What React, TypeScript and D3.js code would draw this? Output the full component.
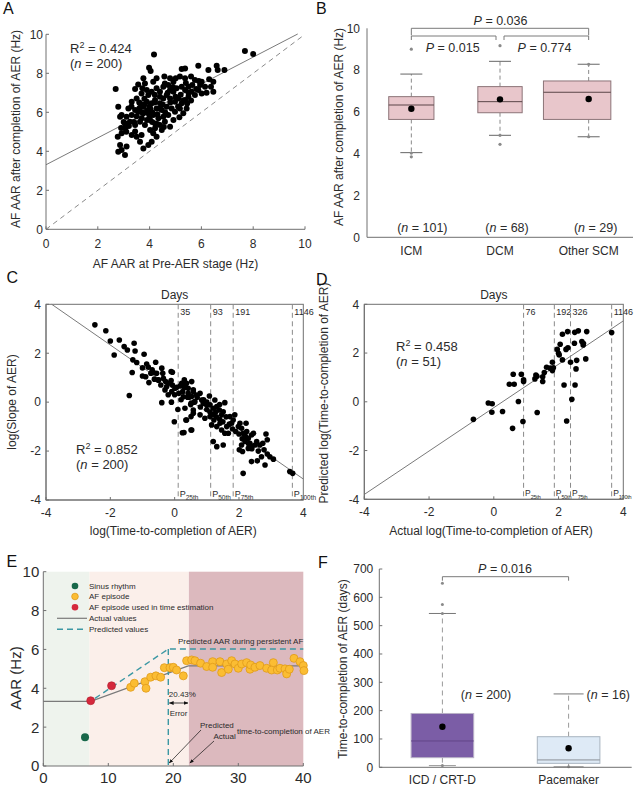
import React from 'react';
import * as d3 from 'd3';

type P = [number, number];

// ---------------- Panel A data ----------------
const aPoints: P[] = [
  [4.17, 8.97], [7.68, 9.14], [8.0, 8.99], [2.69, 7.19], [3.98, 8.29], [4.04, 8.12], [5.24, 8.22], [5.37, 8.25],
  [5.88, 8.39], [6.27, 8.17], [6.59, 8.39], [6.63, 8.17], [6.89, 8.17],
  [3.76, 7.74], [3.82, 7.48], [3.56, 7.43], [3.44, 7.19], [3.72, 7.23], [3.89, 7.14],
  [4.14, 7.57], [4.27, 7.74], [4.57, 7.83], [4.79, 7.74], [4.92, 7.57], [4.72, 7.4], [5.01, 7.74], [5.17, 7.83],
  [5.37, 7.74], [5.6, 7.83], [5.75, 7.66], [6.01, 7.57], [5.95, 7.4], [6.14, 7.31], [5.65, 7.4],
  [6.37, 7.31], [6.46, 7.57], [6.46, 7.06],
  [3.18, 6.2], [3.31, 6.54], [3.5, 6.71], [3.63, 6.46], [3.69, 6.97], [3.95, 6.89], [4.08, 7.06], [4.27, 7.23],
  [4.4, 7.06], [4.53, 7.31], [4.59, 7.48], [4.79, 7.14], [4.92, 7.06], [5.04, 7.23], [5.24, 7.31], [5.37, 7.14],
  [5.5, 7.31], [5.62, 7.06], [5.75, 6.89], [5.88, 7.14], [6.01, 6.97], [5.5, 6.8], [5.37, 6.63], [5.24, 6.46],
  [5.11, 6.71], [4.98, 6.54], [4.79, 6.71], [4.66, 6.89], [4.53, 6.71], [4.4, 6.46], [4.21, 6.63], [4.08, 6.46],
  [3.89, 6.54], [3.76, 6.29], [4.02, 6.2], [4.27, 6.2], [4.47, 6.12], [4.66, 6.29], [4.85, 6.2], [4.98, 6.03],
  [5.17, 6.2], [5.3, 5.95], [5.43, 6.2], [4.72, 5.86], [4.53, 5.77], [4.34, 5.69], [4.14, 5.86], [3.95, 5.95],
  [3.76, 5.95], [3.56, 6.03], [3.44, 6.12], [3.31, 5.86], [3.11, 5.77], [2.92, 5.86], [2.79, 6.29], [2.86, 5.77],
  [3.05, 5.43], [3.24, 5.52], [3.44, 5.35], [3.63, 5.52], [3.82, 5.35], [4.02, 5.6], [4.21, 5.43], [4.4, 5.35],
  [4.59, 5.52], [4.92, 5.6], [3.44, 5.01], [3.31, 4.83], [3.5, 4.75], [3.69, 4.83], [3.63, 4.49], [3.76, 4.15],
  [3.05, 5.18], [2.92, 4.92], [2.77, 4.75], [2.86, 4.32], [2.92, 4.07], [2.79, 3.98], [3.11, 4.24], [3.05, 3.81],
  [4.02, 5.09], [4.14, 4.92], [4.27, 4.75], [4.08, 4.49], [3.95, 4.32], [4.21, 5.18], [4.47, 5.09], [4.79, 5.26],
  [3.6, 6.2], [3.7, 6.0], [3.8, 6.4], [3.9, 6.1], [4.0, 6.3], [4.1, 6.0], [4.2, 6.5], [4.3, 5.9], [4.4, 6.2],
  [4.5, 6.4], [3.7, 5.7], [3.9, 5.6], [4.1, 5.5], [4.3, 5.4], [4.0, 5.8], [3.5, 5.8], [3.4, 5.5], [3.2, 5.3],
  [3.0, 5.5], [3.1, 5.0], [2.9, 5.2], [4.6, 6.0], [4.8, 6.5], [5.0, 6.8], [5.2, 6.9], [5.1, 6.3], [5.3, 6.6],
  [5.5, 7.0], [5.6, 6.6], [5.8, 7.2], [4.9, 7.3], [4.7, 7.0], [4.4, 6.8], [4.2, 6.9], [3.8, 6.7], [3.6, 6.5],
  [3.3, 6.3], [5.4, 7.5], [5.9, 7.6], [6.2, 7.0], [5.15, 5.75], [5.45, 6.45], [4.55, 5.25], [6.3, 7.7],
];
const aFit = { intercept: 3.31, slope: 0.69, xEnd: 9.72 };
const aIdentityEnd = 9.93;
const aTicks = [0, 2, 4, 6, 8, 10];

// ---------------- Panel B data ----------------
const bCategories = ['ICM', 'DCM', 'Other SCM'];
const bQ1 = [5.64, 5.96, 5.64];
const bMedian = [6.33, 6.49, 6.94];
const bQ3 = [6.73, 7.21, 7.48];
const bWhiskerLow = [4.05, 4.88, 4.81];
const bWhiskerHigh = [7.81, 8.42, 8.28];
const bMean = [6.15, 6.6, 6.62];
const bOutliers = [[9.0, 4.03, 3.85], [9.17, 4.88, 4.45], [8.28, 4.81]];
const bN = ['101', '68', '29'];
const bComparisons: [number, number, string][] = [[0, 2, '0.036'], [0, 1, '0.015'], [1, 2, '0.774']];
const bTicks = [0, 2, 4, 6, 8, 10];

// ---------------- Panel C data ----------------
const cPoints: P[] = [
  [-2.48, 3.16], [-2.14, 2.92], [-2.0, 2.5], [-1.72, 2.54], [-1.88, 1.93], [-1.57, 2.27], [-1.47, 2.13],
  [-1.26, 2.41], [-1.23, 2.09], [-1.3, 1.73], [-1.18, 1.62], [-1.32, 1.21], [-1.41, 0.27], [-0.95, 1.96],
  [-0.87, 1.56], [-0.82, 1.43], [-0.59, 1.63], [-1.0, 1.07], [-0.9, 1.04], [-0.7, 1.32], [-0.66, 1.21],
  [-0.74, 1.18], [-0.56, 1.18], [-0.4, 1.39], [-0.11, 1.25], [-0.37, 1.18],
  [-0.63, 0.94], [-0.51, 0.91], [-0.35, 0.98], [-0.28, 0.84], [-0.43, 0.7], [-0.2, 0.77], [-0.11, 0.88],
  [-0.25, 0.63], [-0.07, 1.22], [-0.07, 0.7], [0.01, 0.57], [-0.09, 0.43], [0.06, 0.61], [0.17, 0.66],
  [0.3, 0.91], [0.37, 0.77], [0.13, 0.36], [0.27, 0.22], [0.42, 0.57], [0.53, 0.84], [0.58, 0.43],
  [0.45, 0.2], [0.51, -0.05], [0.32, -0.25], [0.37, -0.73], [-0.01, -0.8], [-0.4, -0.02], [0.58, -0.32],
  [0.51, -0.59], [0.24, -1.25], [0.53, -1.14],
  [0.22, 0.77], [0.32, 0.64], [0.25, 0.43], [0.42, 0.36], [0.58, 0.5], [0.53, 0.23], [0.68, 0.29],
  [0.79, 0.36], [0.63, 0.02], [0.84, 0.09], [0.89, -0.05], [0.99, -0.11], [1.1, -0.11], [1.08, 0.25],
  [1.25, 0.09], [1.2, -0.25], [1.31, -0.18], [1.39, -0.32], [1.56, -0.02], [1.51, -0.39], [1.46, -0.52],
  [1.28, -0.39], [0.35, -0.73], [0.29, -1.24], [0.51, -1.14], [0.58, -0.45], [0.79, -0.52], [0.94, -0.66],
  [1.1, -0.59], [1.22, -0.73], [1.15, -0.93], [1.31, -1.0], [1.41, -0.86], [1.46, -1.14], [1.62, -1.0],
  [1.56, -1.27], [1.67, -1.27], [1.72, -0.59], [1.82, -0.73], [1.77, -0.86], [1.87, -0.52], [1.98, -1.0],
  [2.03, -0.86], [2.08, -1.07], [2.22, -0.86], [2.13, -1.27], [2.24, -1.2], [2.29, -1.48], [2.39, -1.34],
  [2.45, -1.27], [2.34, -1.68], [2.19, -1.61], [2.08, -1.75], [2.01, -1.95], [2.11, -2.02], [2.29, -1.89],
  [2.39, -1.82], [2.5, -1.75], [2.55, -1.61], [2.65, -1.75], [2.74, -1.68], [2.84, -1.3], [2.88, -1.54],
  [2.78, -1.95], [2.88, -2.12], [2.96, -2.23], [3.07, -2.33], [2.7, -2.23], [2.39, -2.43], [2.57, -2.4],
  [2.81, -2.57], [2.13, -2.91], [1.2, -1.61], [1.31, -1.82], [1.51, -1.75], [3.58, -2.84], [3.67, -2.91],
  [0.0, 0.3], [0.2, 0.1], [0.4, 0.2], [0.6, 0.0], [0.7, 0.2], [0.8, -0.2], [0.9, 0.1], [1.0, -0.3],
  [1.1, -0.4], [1.2, -0.5], [1.3, -0.6], [1.4, -0.7], [1.5, -0.8], [1.6, -0.6], [1.7, -0.9], [1.8, -1.1],
  [1.9, -1.2], [2.0, -1.3], [2.1, -1.5], [2.2, -1.4], [2.3, -1.7], [-0.3, 0.5], [-0.5, 0.9], [-0.2, 0.3],
  [0.3, 0.6], [0.5, -0.1], [1.0, 0.0], [1.4, -0.1], [2.4, -1.9], [2.6, -2.0], [-0.8, 0.8], [-1.0, 1.4],
  [-0.1, 0.0], [0.1, -0.3],
];
const cFit = { intercept: 0.51, slope: -0.913, xStart: -3.82, xEnd: 4 };
const cPctX = [0.11, 1.12, 1.82, 3.66];
const cDays = ['35', '93', '191', '1146'];
const pctNames = ['25th', '50th', '75th', '100th'];
const logTicks = [-4, -2, 0, 2, 4];

// ---------------- Panel D data ----------------
const dPoints: P[] = [
  [-0.63, -0.72], [-0.17, -0.05], [-0.05, -0.08], [-0.06, -0.43], [0.27, -0.4], [0.48, 0.72], [0.63, 0.72],
  [0.6, 1.13], [0.58, -1.09], [0.76, 0.01], [0.85, 1.13], [0.9, -0.81], [0.92, 0.9], [0.92, 0.83],
  [1.27, 0.94], [1.3, 1.1], [1.34, -0.44], [1.51, 1.03], [1.51, 0.83], [1.56, 1.2], [1.63, 1.42],
  [1.74, 1.38], [1.81, 1.62], [1.81, 1.28], [1.84, 1.4], [1.96, 2.15], [2.0, 1.99], [2.02, 1.92],
  [2.05, 2.36], [2.12, 2.77], [2.12, 1.72], [2.17, 0.69], [2.23, 2.15], [2.25, -0.79], [2.28, 2.88],
  [2.29, 2.22], [2.37, 1.62], [2.41, 0.1], [2.49, 2.4], [2.5, 2.85], [2.51, 0.69], [2.54, 1.35],
  [2.56, 1.7], [2.61, 2.91], [2.72, 2.47], [2.76, 2.33], [2.77, 2.39], [2.84, 1.76], [2.87, 2.88],
  [3.64, 2.84], [1.33, 1.05],
];
const dFit = { intercept: -0.24, slope: 0.89, xStart: -4, xEnd: 4 };
const dPctX = [0.92, 1.87, 2.37, 3.64];
const dDays = ['76', '192', '326', '1146'];

// ---------------- Panel E data ----------------
const eSinus: P[] = [[6.42, 1.48]];
const eUsed: P[] = [[7.29, 3.36], [10.5, 4.13]];
const eAF: P[] = [
  [13.44, 4.05], [14.0, 4.26], [15.64, 4.34], [15.8, 4.0], [16.52, 4.57], [17.33, 4.64], [18.05, 4.57],
  [18.62, 5.06], [19.49, 5.06], [20.0, 5.08], [20.5, 4.94], [21.54, 4.64], [22.05, 5.42], [22.82, 5.46],
  [23.33, 5.42], [24.2, 5.29], [25.13, 5.12], [26.05, 5.37], [26.05, 5.08], [27.18, 5.37], [27.44, 4.81],
  [28.21, 5.25], [28.46, 4.98], [28.98, 5.42], [29.49, 5.25], [30.0, 5.03], [30.52, 5.25], [31.28, 5.32],
  [31.8, 4.98], [31.9, 5.2], [32.56, 5.08], [33.33, 5.17], [34.36, 5.03], [35.13, 4.94], [35.39, 5.32],
  [36.0, 4.94], [36.41, 5.03], [37.18, 5.0], [37.44, 4.74], [37.85, 4.98], [38.57, 5.54], [39.49, 5.37],
  [40.0, 5.17], [40.1, 4.91],
];
const eActual: P[] = [[0, 3.33], [7.3, 3.33], [22.3, 5.15], [40, 5.15]];
const ePredicted: P[] = [[7.95, 3.48], [19.23, 6.02], [40, 6.02]];
const ePredictedTime = 19.23;
const eActualTime = 22.4;
const eRegions: [number, number][] = [[0, 7.1], [7.1, 22.4], [22.4, 40]];
const eErrorLabel = '20.43%';
const eXTicks = [0, 10, 20, 30, 40];
const eYTicks = [0, 2, 4, 6, 8, 10];
const eLegend = ['Sinus rhythm', 'AF episode', 'AF episode used in time estimation', 'Actual values', 'Predicted values'];

// ---------------- Panel F data ----------------
const fCategories = ['ICD / CRT-D', 'Pacemaker'];
const fQ1 = [34, 14];
const fMedian = [93, 26];
const fQ3 = [190, 108];
const fWhiskerLow = [6, 2];
const fWhiskerHigh = [543, 259];
const fMean = [143, 67];
const fOutliers = [[650, 575, 543, 6], [2]];
const fN = ['200', '16'];
const fP = '0.016';
const fTicks = [0, 100, 200, 300, 400, 500, 600, 700];

// ---------------- styling ----------------
const FONT = 'Arial, "Liberation Sans", Helvetica, sans-serif';
const AXIS = '#707070';
const TXT = '#2b2b2b';

function LeftAxis({ y, x0, ticks, fs = 12, gap = 4, len = 3 }: any) {
  const [r0, r1] = y.range();
  return (
    <g>
      <line x1={x0} x2={x0} y1={r0} y2={r1} stroke={AXIS} strokeWidth={1} />
      {ticks.map((t: number) => (
        <g key={t}>
          <line x1={x0} x2={x0 + len} y1={y(t)} y2={y(t)} stroke={AXIS} />
          <text x={x0 - gap} y={y(t)} dy="0.36em" textAnchor="end" fontSize={fs} fill={TXT}>{String(t)}</text>
        </g>
      ))}
    </g>
  );
}

function BottomAxis({ x, y0, ticks, fs = 12, off = 17, len = 3, labels }: any) {
  const [r0, r1] = x.range();
  return (
    <g>
      <line x1={r0} x2={r1} y1={y0} y2={y0} stroke={AXIS} strokeWidth={1} />
      {ticks.map((t: number, i: number) => (
        <g key={t}>
          <line x1={x(t)} x2={x(t)} y1={y0} y2={y0 - len} stroke={AXIS} />
          <text x={x(t)} y={y0 + off} textAnchor="middle" fontSize={fs} fill={TXT}>{labels ? labels[i] : String(t)}</text>
        </g>
      ))}
    </g>
  );
}

function RotLabel({ x, y, text, fs = 12 }: any) {
  return (
    <text transform={`translate(${x},${y}) rotate(-90)`} textAnchor="middle" fontSize={fs} fill={TXT}>{text}</text>
  );
}

function RSquared({ x, y, r, n }: any) {
  return (
    <g fontSize={13} fill={TXT}>
      <text x={x} y={y}>R<tspan dy={-5} fontSize={9}>2</tspan><tspan dy={5}>{` = ${r}`}</tspan></text>
      <text x={x} y={y + 15}>(<tspan fontStyle="italic">n</tspan>{` = ${n})`}</text>
    </g>
  );
}

function PanelA() {
  const x = d3.scaleLinear().domain([0, 10]).range([46, 305]);
  const y = d3.scaleLinear().domain([0, 10]).range([229.3, 34.3]);
  const line = d3.line<P>().x(d => x(d[0])).y(d => y(d[1]));
  return (
    <g>
      <path d={line([[0, 0], [aIdentityEnd, aIdentityEnd]]) || ''} stroke="#8a8a8a" strokeDasharray="5,4" fill="none" />
      <path d={line([[0, aFit.intercept], [aFit.xEnd, aFit.intercept + aFit.slope * aFit.xEnd]]) || ''} stroke="#7a7a7a" fill="none" />
      {aPoints.map((p, i) => <circle key={i} cx={x(p[0])} cy={y(p[1])} r={3} fill="#000" />)}
      <LeftAxis y={y} x0={46} ticks={aTicks} gap={3} />
      <BottomAxis x={x} y0={229.3} ticks={aTicks} off={18.5} />
      <text x={175.5} y={268} textAnchor="middle" fontSize={12} fill={TXT}>AF AAR at Pre-AER stage (Hz)</text>
      <RotLabel x={19.5} y={129} text="AF AAR after completion of AER (Hz)" />
      <RSquared x={70} y={53} r="0.424" n="200" />
    </g>
  );
}

function PanelB() {
  const x = d3.scaleLinear().domain([0.5, 3.5]).range([367, 633]);
  const y = d3.scaleLinear().domain([0, 10]).range([237.3, 28.3]);
  const unit = x(2) - x(1);
  const boxSpan = [[-0.255, 0.255], [-0.25, 0.25], [-0.51, 0.25]];
  const cap = 11;
  const pos = (i: number) => x(i + 1);
  const bracketY = [y(10), y(10) + 7.7, y(10) + 7.7];
  const drop = [7, 4, 4];
  return (
    <g>
      {bCategories.map((c, i) => {
        const cx = pos(i);
        const x0 = cx + boxSpan[i][0] * unit;
        const x1 = cx + boxSpan[i][1] * unit;
        return (
          <g key={c}>
            <line x1={cx} x2={cx} y1={y(bQ3[i])} y2={y(bWhiskerHigh[i])} stroke="#8a8a8a" strokeDasharray="4,3" />
            <line x1={cx} x2={cx} y1={y(bQ1[i])} y2={y(bWhiskerLow[i])} stroke="#8a8a8a" strokeDasharray="4,3" />
            <line x1={cx - cap} x2={cx + cap} y1={y(bWhiskerHigh[i])} y2={y(bWhiskerHigh[i])} stroke="#666" />
            <line x1={cx - cap} x2={cx + cap} y1={y(bWhiskerLow[i])} y2={y(bWhiskerLow[i])} stroke="#666" />
            <rect x={x0} width={x1 - x0} y={y(bQ3[i])} height={y(bQ1[i]) - y(bQ3[i])} fill="#e8c6cb" stroke="#8c7478" />
            <line x1={x0} x2={x1} y1={y(bMedian[i])} y2={y(bMedian[i])} stroke="#5a4548" />
            <circle cx={cx} cy={y(bMean[i])} r={3.2} fill="#000" />
            {bOutliers[i].map((o, j) => <circle key={j} cx={cx} cy={y(o)} r={1.6} fill="#8a8a8a" />)}
            <text x={cx} y={255} textAnchor="middle" fontSize={12} fill={TXT}>{c}</text>
          </g>
        );
      })}
      {bN.map((n, i) => (
        <text key={i} x={pos(i) + [11, 7, 7][i]} y={232} textAnchor="middle" fontSize={12.5} fill={TXT}>(<tspan fontStyle="italic">n</tspan>{` = ${n})`}</text>
      ))}
      {bComparisons.map(([a, b, p], k) => {
        const xa = pos(a) + (k === 2 ? 4 : 0);
        const xb = pos(b) - (k === 1 ? 4 : 0);
        const yy = bracketY[k];
        const tx = k === 0 ? (pos(a) + pos(b)) / 2 + 0.5 : k === 1 ? 452.7 : 544.5;
        const ty = k === 0 ? 24.5 : 51.5;
        return (
          <g key={k}>
            <path d={`M${xa},${yy + drop[k]} V${yy} H${xb} V${yy + drop[k]}`} fill="none" stroke="#7a7a7a" />
            <text x={tx} y={ty} textAnchor="middle" fontSize={12.5} fill={TXT}><tspan fontStyle="italic">P</tspan>{` = ${p}`}</text>
          </g>
        );
      })}
      <LeftAxis y={y} x0={367} ticks={bTicks} gap={7} len={0} />
      <line x1={367} x2={633} y1={237.3} y2={237.3} stroke={AXIS} />
      <RotLabel x={342.5} y={127} text="AF AAR after completion of AER (Hz)" />
    </g>
  );
}

function LogPanel({ pts, fit, pct, days, x0, x1, yTop, yBot, r2, n, r2x, r2y, pFs, subFs, subLs }: any) {
  const x = d3.scaleLinear().domain([-4, 4]).range([x0, x1]);
  const y = d3.scaleLinear().domain([-4, 4]).range([yBot, yTop]);
  const line = d3.line<P>().x(d => x(d[0])).y(d => y(d[1]));
  return (
    <g>
      <rect x={x0} y={yTop} width={x1 - x0} height={yBot - yTop} fill="none" stroke={AXIS} />
      {pct.map((px: number, i: number) => (
        <g key={i}>
          <line x1={x(px)} x2={x(px)} y1={yTop} y2={yBot} stroke="#8a8a8a" strokeDasharray="5,3.5" />
          <text x={x(px) + 2} y={yTop + 10.5} fontSize={9} fill={TXT}>{days[i]}</text>
          <text x={x(px) + 1.5} y={yBot - 3.5} fontSize={pFs} fill={TXT}>P<tspan dy={3} fontSize={subFs} letterSpacing={subLs}>{pctNames[i]}</tspan></text>
        </g>
      ))}
      <path d={line([[fit.xStart, fit.intercept + fit.slope * fit.xStart], [fit.xEnd, fit.intercept + fit.slope * fit.xEnd]]) || ''} stroke="#7a7a7a" fill="none" />
      {pts.map((p: P, i: number) => <circle key={i} cx={x(p[0])} cy={y(p[1])} r={2.8} fill="#000" />)}
      <LeftAxis y={y} x0={x0} ticks={logTicks} gap={5} />
      <BottomAxis x={x} y0={yBot} ticks={logTicks} off={16.5} />
      <text x={(x0 + x1) / 2} y={yTop - 5} textAnchor="middle" fontSize={12} fill={TXT}>Days</text>
      <RSquared x={r2x} y={r2y} r={r2} n={n} />
    </g>
  );
}

function PanelE() {
  const x = d3.scaleLinear().domain([0, 40]).range([43.3, 303.3]);
  const y = d3.scaleLinear().domain([0, 10]).range([766, 571.7]);
  const line = d3.line<P>().x(d => x(d[0])).y(d => y(d[1]));
  const regionFill = ['#eef3ed', '#fbefea', '#dcb9be'];
  const orange = '#fbbd33';
  const orangeStroke = '#e09a1a';
  const red = '#d5283c';
  const green = '#17684a';
  const teal = '#3c98a4';
  const lgX = 75;
  const lgY = [586, 596.5, 607.3, 618.3, 629.3];
  return (
    <g>
      {eRegions.map((r, i) => (
        <rect key={i} x={x(r[0])} y={y(10)} width={x(r[1]) - x(r[0])} height={y(0) - y(10)} fill={regionFill[i]} />
      ))}
      <path d={line(eActual) || ''} stroke="#7a7a7a" strokeWidth={1.2} fill="none" />
      <path d={line(ePredicted) || ''} stroke={teal} strokeWidth={1.4} strokeDasharray="6,4" fill="none" />
      <line x1={x(ePredictedTime)} x2={x(ePredictedTime)} y1={y(6.02)} y2={y(0)} stroke={teal} strokeWidth={1.4} strokeDasharray="6,4" />
      {eAF.map((p, i) => <circle key={i} cx={x(p[0])} cy={y(p[1])} r={4} fill={orange} stroke={orangeStroke} strokeWidth={0.8} />)}
      {eUsed.map((p, i) => <circle key={i} cx={x(p[0])} cy={y(p[1])} r={4} fill={red} stroke="#b01c2e" strokeWidth={0.6} />)}
      {eSinus.map((p, i) => <circle key={i} cx={x(p[0])} cy={y(p[1])} r={4} fill={green} />)}
      <text x={x(40)} y={y(6.02) - 5} textAnchor="end" fontSize={8} fill={TXT}>Predicted AAR during persistent AF</text>
      <circle cx={lgX} cy={lgY[0]} r={3.3} fill={green} />
      <circle cx={lgX} cy={lgY[1]} r={3.3} fill={orange} stroke={orangeStroke} strokeWidth={0.8} />
      <circle cx={lgX} cy={lgY[2]} r={3.3} fill={red} />
      <line x1={57} x2={87} y1={lgY[3]} y2={lgY[3]} stroke="#7a7a7a" strokeWidth={1.2} />
      <line x1={57} x2={87} y1={lgY[4]} y2={lgY[4]} stroke={teal} strokeWidth={1.4} strokeDasharray="6,4" />
      {eLegend.map((t, i) => (
        <text key={i} x={89} y={lgY[i]} dy="0.35em" fontSize={8} fill={TXT}>{t}</text>
      ))}
      <text x={x(ePredictedTime) + 0.5} y={697} fontSize={8} fill={TXT}>{eErrorLabel}</text>
      <line x1={x(ePredictedTime) + 1} x2={x(eActualTime) - 1} y1={703} y2={703} stroke="#111" strokeWidth={0.8} markerStart="url(#ah)" markerEnd="url(#ah)" />
      <text x={(x(ePredictedTime) + x(eActualTime)) / 2} y={715.5} textAnchor="middle" fontSize={8} fill={TXT}>Error</text>
      <text x={200} y={728} fontSize={8} fill={TXT}>Predicted</text>
      <text x={213.5} y={739} fontSize={8} fill={TXT}>Actual</text>
      <text x={237} y={733.5} fontSize={8} fill={TXT}>time-to-completion of AER</text>
      <line x1={201} x2={x(ePredictedTime) + 1} y1={730} y2={763} stroke="#111" strokeWidth={0.7} markerEnd="url(#ah)" />
      <line x1={214} x2={x(eActualTime) + 1} y1={741} y2={763} stroke="#111" strokeWidth={0.7} markerEnd="url(#ah)" />
      <LeftAxis y={y} x0={43.3} ticks={eYTicks} fs={15} gap={4} />
      <BottomAxis x={x} y0={766} ticks={eXTicks} fs={15} off={16.5} />
      <RotLabel x={21} y={678} text="AAR (Hz)" fs={15} />
    </g>
  );
}

function PanelF() {
  const x = d3.scaleLinear().domain([0.5, 2.5]).range([379.3, 631.7]);
  const y = d3.scaleLinear().domain([0, 700]).range([767.3, 569]);
  const halfBox = 31.3;
  const fills = ['#7b5da6', '#deeaf6'];
  const strokes = ['#b9b1c6', '#a9b4c0'];
  const medians = ['#614688', '#8a8f96'];
  const caps = [[13.5, 13.5], [15, 15]];
  return (
    <g>
      {fCategories.map((c, i) => {
        const cx = x(i + 1);
        return (
          <g key={c}>
            <line x1={cx} x2={cx} y1={y(fQ3[i])} y2={y(fWhiskerHigh[i])} stroke="#9a9a9a" strokeDasharray="5,4" />
            <line x1={cx} x2={cx} y1={y(fQ1[i])} y2={y(fWhiskerLow[i])} stroke="#9a9a9a" strokeDasharray="5,4" />
            <line x1={cx - caps[i][0]} x2={cx + caps[i][1]} y1={y(fWhiskerHigh[i])} y2={y(fWhiskerHigh[i])} stroke="#777" />
            <line x1={cx - caps[i][0]} x2={cx + caps[i][1]} y1={y(fWhiskerLow[i])} y2={y(fWhiskerLow[i])} stroke="#999" />
            <rect x={cx - halfBox} width={halfBox * 2} y={y(fQ3[i])} height={y(fQ1[i]) - y(fQ3[i])} fill={fills[i]} stroke={strokes[i]} />
            <line x1={cx - halfBox} x2={cx + halfBox} y1={y(fMedian[i])} y2={y(fMedian[i])} stroke={medians[i]} />
            <circle cx={cx} cy={y(fMean[i])} r={3.2} fill="#000" />
            {fOutliers[i].map((o, j) => <circle key={j} cx={cx} cy={y(o)} r={1.5} fill="#8a8a8a" />)}
            <text x={cx} y={784} textAnchor="middle" fontSize={12} fill={TXT}>{c}</text>
          </g>
        );
      })}
      {fN.map((n, i) => (
        <text key={i} x={[486, 608.3][i]} y={699} textAnchor="middle" fontSize={12.5} fill={TXT}>(<tspan fontStyle="italic">n</tspan>{` = ${n})`}</text>
      ))}
      <path d={`M${x(1)},${580.7} V${576.7} H${x(2)} V${580.7}`} fill="none" stroke="#7a7a7a" />
      <text x={505} y={572.5} textAnchor="middle" fontSize={12.5} fill={TXT}><tspan fontStyle="italic">P</tspan>{` = ${fP}`}</text>
      <LeftAxis y={y} x0={379.3} ticks={fTicks} gap={6} />
      <line x1={379.3} x2={631.7} y1={767.3} y2={767.3} stroke={AXIS} />
      <RotLabel x={346.5} y={669} text="Time-to-completion of AER (days)" />
    </g>
  );
}

export default function App() {
  return (
    <svg width={641} height={788} style={{ position: 'absolute', left: 0, top: 0, background: '#fff' }} fontFamily={FONT}>
      <defs>
        <marker id="ah" viewBox="0 0 10 10" refX="9" refY="5" markerWidth="6" markerHeight="6" orient="auto-start-reverse">
          <path d="M0,1 L10,5 L0,9 z" fill="#111" />
        </marker>
      </defs>
      <rect width={641} height={788} fill="#fff" />
      <PanelA />
      <PanelB />
      <LogPanel pts={cPoints} fit={cFit} pct={cPctX} days={cDays} x0={46} x1={303.3} yTop={304.3} yBot={500} r2="0.852" n="200" r2x={76} r2y={454} pFs={9} subFs={6.5} subLs={0} />
      <text x={173.3} y={535} textAnchor="middle" fontSize={12} fill={TXT}>log(Time-to-completion of AER)</text>
      <RotLabel x={15.7} y={402} text="log(Slope of AER)" />
      <LogPanel pts={dPoints} fit={dFit} pct={dPctX} days={dDays} x0={364.3} x1={623.3} yTop={304.3} yBot={499.3} r2="0.458" n="51" r2x={396} r2y={351} pFs={8.5} subFs={5.5} subLs={-0.25} />
      <text x={491} y={535} textAnchor="middle" fontSize={12} fill={TXT}>Actual log(Time-to-completion of AER)</text>
      <RotLabel x={328} y={393} text="Predicted log(Time-to-completion of AER)" />
      <PanelE />
      <PanelF />
      <g fontSize={16} fill="#111">
        <text x={3} y={14}>A</text>
        <text x={316} y={14}>B</text>
        <text x={6.5} y={283}>C</text>
        <text x={316} y={285}>D</text>
        <text x={6.5} y={567}>E</text>
        <text x={318} y={568}>F</text>
      </g>
    </svg>
  );
}
